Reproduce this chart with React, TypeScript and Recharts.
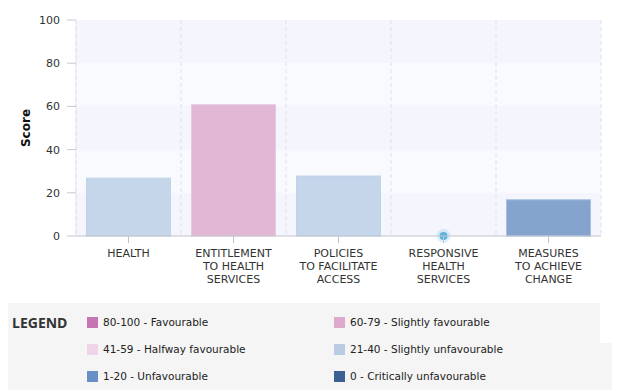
import { BarChart, Bar, XAxis, YAxis, CartesianGrid, Cell } from 'recharts'

const categories = [
  'HEALTH',
  'ENTITLEMENT\nTO HEALTH\nSERVICES',
  'POLICIES\nTO FACILITATE\nACCESS',
  'RESPONSIVE\nHEALTH\nSERVICES',
  'MEASURES\nTO ACHIEVE\nCHANGE',
]
const scores = [27, 61, 28, 0, 17]
const yTicks = [0, 20, 40, 60, 80, 100]

const legendItems = [
  { label: '80-100 - Favourable', color: '#c774b2' },
  { label: '60-79 - Slightly favourable', color: '#dfa9cf' },
  { label: '41-59 - Halfway favourable', color: '#f0d5e9' },
  { label: '21-40 - Slightly unfavourable', color: '#b9cce4' },
  { label: '1-20 - Unfavourable', color: '#6890c7' },
  { label: '0 - Critically unfavourable', color: '#3a6094' },
]

// bar colours are a softer tint of the legend colour for the band
const barColor = (v: number) => {
  if (v >= 80) return { fill: '#d48fc2', stroke: '#e0b0d2' }
  if (v >= 60) return { fill: '#e2b7d6', stroke: '#e8c8df' }
  if (v >= 41) return { fill: '#f2dcec', stroke: '#f5e6f1' }
  if (v >= 21) return { fill: '#c5d5ea', stroke: '#bcd3e8' }
  if (v >= 1) return { fill: '#84a4ce', stroke: '#a6c0e2' }
  return { fill: '#5cb3e0', stroke: '#5cb3e0' }
}

const data = categories.map((c, i) => ({ name: c, score: scores[i], idx: i }))

const FONT = '"DejaVu Sans", Verdana, sans-serif'

// dashed separators sit between categories, not on the ticks
// eslint-disable-next-line @typescript-eslint/no-explicit-any
const boundaryLines = ({ offset }: any) =>
  categories.map((_, k) => offset.left + (offset.width * k) / categories.length).concat(offset.left + offset.width)

// eslint-disable-next-line @typescript-eslint/no-explicit-any
const XTick = ({ x, y, payload }: any) => {
  const lines = String(payload.value).split('\n')
  return (
    <text x={x} y={y} textAnchor="middle" fontFamily={FONT} fontSize={11} fill="#333">
      {lines.map((l, i) => (
        <tspan key={i} x={x} dy={i === 0 ? 12 : 13}>
          {l}
        </tspan>
      ))}
    </text>
  )
}

// eslint-disable-next-line @typescript-eslint/no-explicit-any
const BarShape = (props: any) => {
  const { x, y, width, height, fill, stroke, value } = props
  const v = Array.isArray(value) ? value[1] : value
  if (!v) {
    const cx = x + width / 2
    return (
      <g>
        <circle cx={cx} cy={y} r={7} fill="#5cb3e0" fillOpacity={0.2} />
        <circle cx={cx} cy={y} r={4} fill="#5cb3e0" />
      </g>
    )
  }
  return <rect x={x + 0.5} y={y + 0.5} width={width - 1} height={height - 0.5} fill={fill} stroke={stroke} strokeWidth={1} />
}

export default function App() {
  return (
    <div style={{ position: 'relative', width: 620, height: 390, margin: '-8px -8px 0', background: '#fff', fontFamily: FONT }}>
      <BarChart
        width={620}
        height={300}
        data={data}
        margin={{ top: 20, right: 19, left: 26, bottom: 0 }}
      >
        <CartesianGrid
          vertical={false}
          horizontalFill={['#f5f6fd', '#f9fafe']}
          stroke="none"
        />
        <CartesianGrid
          stroke="#e0e0ea"
          strokeDasharray="4 3"
          horizontal={false}
          verticalCoordinatesGenerator={boundaryLines}
        />
        <XAxis
          dataKey="name"
          interval={0}
          height={64}
          tick={<XTick />}
          tickSize={7}
          tickLine={{ stroke: '#c0c4cc' }}
          axisLine={{ stroke: '#c0c4cc' }}
        />
        <YAxis
          domain={[0, 100]}
          ticks={yTicks}
          width={50}
          tickSize={9}
          tickMargin={7}
          tickLine={{ stroke: '#c8c8d0' }}
          axisLine={{ stroke: '#e6e6ef' }}
          tick={{ fontFamily: FONT, fontSize: 11, fill: '#333' }}
          label={{
            value: 'Score',
            angle: -90,
            position: 'insideLeft',
            offset: 0,
            style: { fontFamily: FONT, fontSize: 12, fontWeight: 'bold', fill: '#111', textAnchor: 'middle' },
          }}
        />
        <Bar dataKey="score" barSize={85} isAnimationActive={false} shape={<BarShape />}>
          {data.map((d) => {
            const c = barColor(d.score)
            return <Cell key={d.idx} fill={c.fill} stroke={c.stroke} />
          })}
        </Bar>
      </BarChart>

      {/* Legend */}
      <div style={{ position: 'absolute', left: 2, top: 303, width: 598, height: 87, background: '#f5f5f5' }} />
      <div style={{ position: 'absolute', left: 600, top: 343, width: 15, height: 47, background: '#f5f5f5' }} />
      <div
        style={{
          position: 'absolute',
          left: 12,
          top: 314,
          fontFamily: '"Open Sans", sans-serif',
          fontWeight: 700,
          fontSize: 14,
          color: '#333',
          lineHeight: '18px',
        }}
      >
        LEGEND
      </div>
      {legendItems.map((item, i) => {
        const col = i % 2
        const row = Math.floor(i / 2)
        const left = col === 0 ? 87 : 334
        const cy = 322 + row * 27
        return (
          <div
            key={item.label}
            style={{ position: 'absolute', left, top: cy - 8, height: 16, display: 'flex', alignItems: 'center' }}
          >
            <div style={{ width: 11, height: 11, background: item.color, marginRight: 5 }} />
            <span style={{ fontSize: 10.5, color: '#222', whiteSpace: 'nowrap' }}>{item.label}</span>
          </div>
        )
      })}
    </div>
  )
}
